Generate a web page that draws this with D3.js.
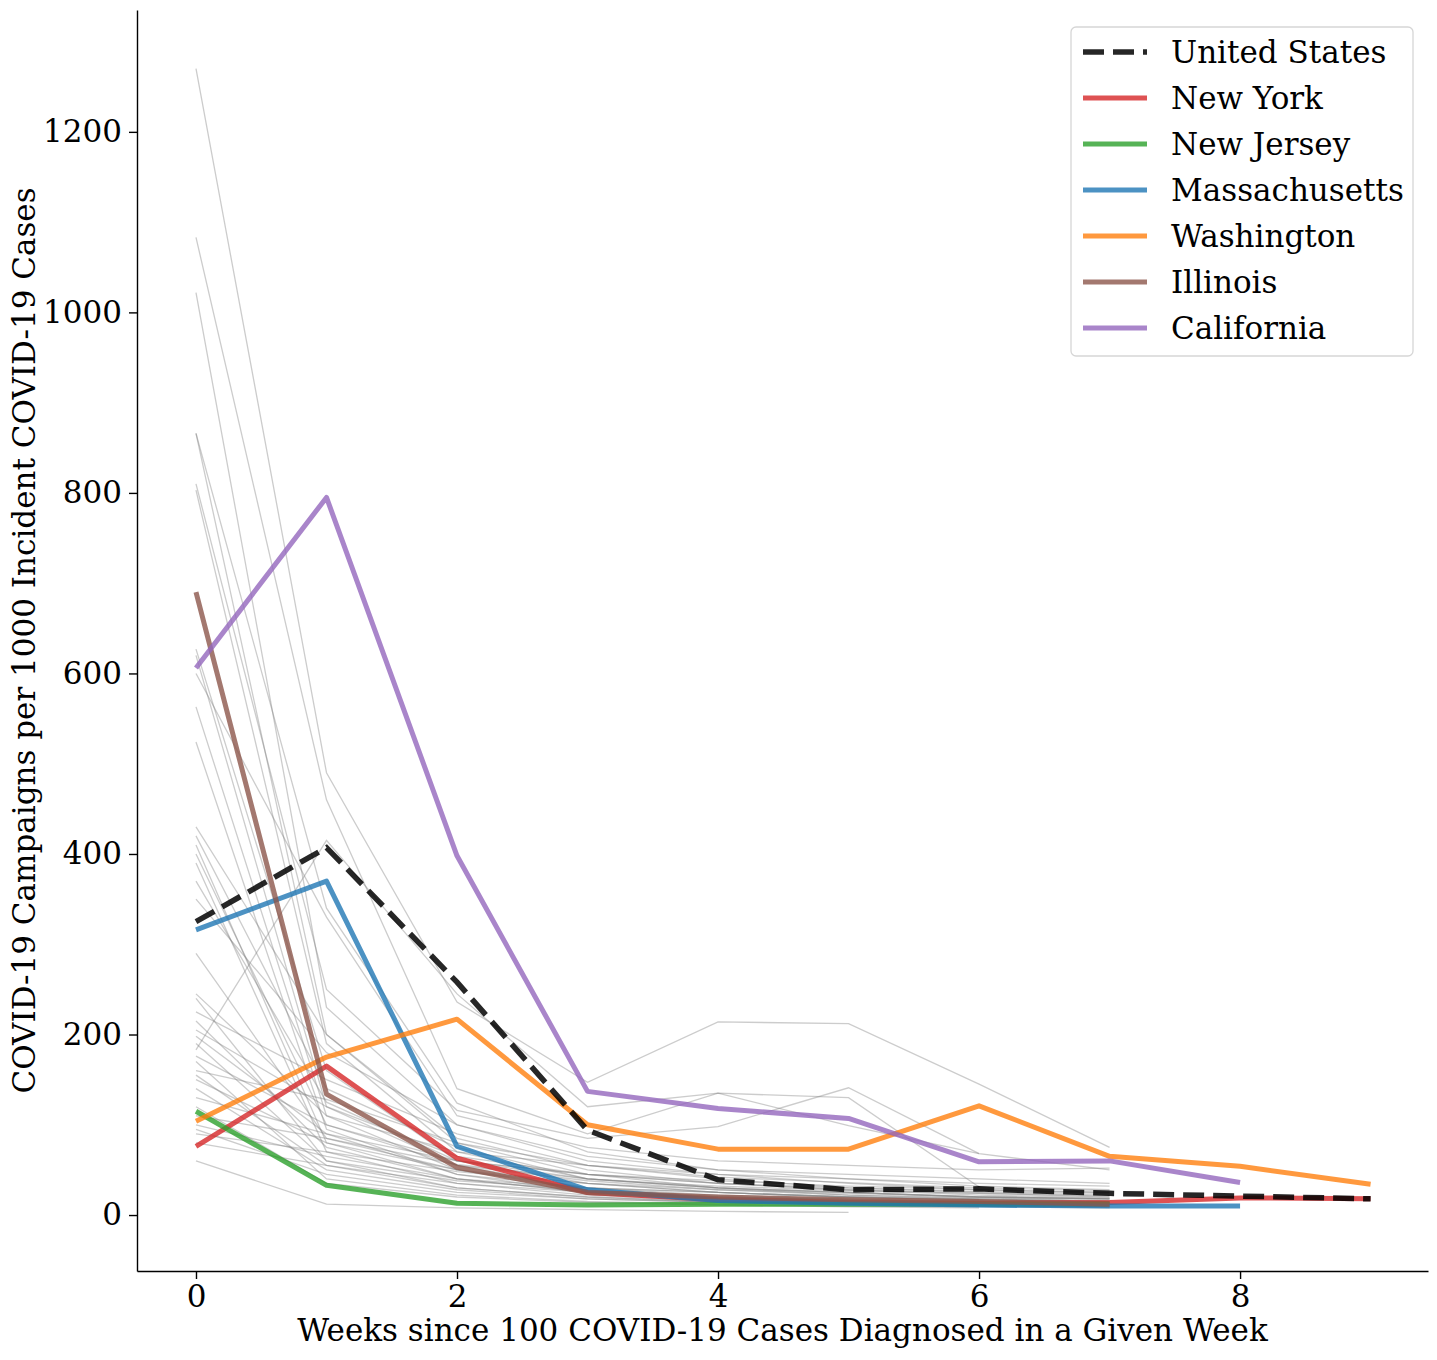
<!DOCTYPE html>
<html>
<head>
<meta charset="utf-8">
<script src="https://cdn.jsdelivr.net/npm/d3@7"></script>
<style>
  body { margin: 0; background: #fff; }
  svg { display: block; font-family: "DejaVu Serif", serif; }
</style>
</head>
<body>
<div id="chart"></div>
<script>
// weeks since 100 cases
const weeks = [0, 1, 2, 3, 4, 5, 6, 7, 8, 9];

// highlighted series (campaigns per 1000 incident cases)
const unitedStates = [325, 407, 258, 94, 39, 28, 29, 24, 21, 18];
const newYork = [76, 165, 63, 25, 17, 14, 13, 14, 19, 18];
const newJersey = [115, 33, 13, 11, 12, 12, 12, 12];
const massachusetts = [316, 370, 76, 28, 16, 13, 11, 10, 10];
const washington = [104, 175, 217, 100, 73, 73, 121, 65, 54, 34];
const illinois = [690, 134, 53, 25, 20, 17, 15, 12];
const california = [606, 795, 398, 137, 118, 107, 59, 60, 36];

// other states, drawn in grey
const otherStates = [
    [1270, 490, 236, 147, 214, 212, 145, 75],
    [1083, 460, 140, 90, 135, 130, 31],
    [1022, 230, 100, 60, 45, 35, 28, 25],
    [866, 340, 124, 70, 50, 40, 32, 28],
    [866, 200, 80, 45, 30, 25, 20, 18],
    [810, 250, 116, 85, 98, 141, 68],
    [803, 190, 70, 40, 30, 22, 18, 15],
    [627, 160, 60, 35, 25, 20, 16, 14],
    [620, 120, 55, 30, 20, 18, 15, 12],
    [563, 110, 50, 28, 20, 17, 14, 12],
    [524, 95, 45, 25, 18, 15, 13, 11],
    [430, 200, 85, 50, 35, 28, 24, 20],
    [420, 140, 75, 40, 30, 25, 20, 18],
    [410, 80, 40, 25, 20, 16, 14, 12],
    [400, 100, 55, 38, 28, 22, 19, 16],
    [390, 70, 35, 22, 16, 14, 12, 10],
    [370, 125, 60, 45, 35, 28, 22, 19],
    [290, 85, 50, 30, 25, 20, 17],
    [240, 60, 30, 20, 15, 12, 10, 9],
    [225, 150, 90, 55, 40, 30, 25, 22],
    [215, 75, 40, 25, 18, 15],
    [205, 120, 65, 45, 35, 30, 26, 24],
    [198, 90, 45, 30, 22, 18, 15, 13],
    [190, 60, 38, 28, 20, 16, 14, 12],
    [183, 415, 245, 120, 135, 99, 68, 50],
    [176, 100, 60, 40, 30, 25, 20, 18],
    [155, 55, 30, 20, 14, 12, 10],
    [150, 80, 50, 35, 25, 20, 18, 15],
    [140, 50, 28, 18, 14, 12, 10, 9],
    [100, 65, 40, 30, 25, 20, 17, 15],
    [95, 45, 25, 18, 14, 12, 10, 9],
    [90, 70, 48, 35, 28, 24, 20, 18],
    [60, 12, 8, 6, 4, 3],
    [130, 90, 60, 45, 38, 32, 28, 25],
    [245, 110, 70, 55, 45, 40, 35, 32],
    [350, 180, 100, 65, 50, 45, 40, 35],
    [600, 330, 110, 75, 60, 55, 50, 52],
    [170, 40, 22, 15, 12, 10, 9, 8],
    [120, 35, 20, 14, 11, 9, 8],
    [80, 55, 35, 25, 20, 17, 15, 13],
    [160, 128, 80, 55, 42, 36, 30, 27],
    [110, 85, 56, 40, 32, 27, 24, 21]
];

const xTicks = [0, 2, 4, 6, 8];
const yTicks = [0, 200, 400, 600, 800, 1000, 1200];

const highlighted = [
    { name: "New York", values: newYork, color: "#d62728" },
    { name: "New Jersey", values: newJersey, color: "#2ca02c" },
    { name: "Massachusetts", values: massachusetts, color: "#1f77b4" },
    { name: "Washington", values: washington, color: "#ff7f0e" },
    { name: "Illinois", values: illinois, color: "#8c564b" },
    { name: "California", values: california, color: "#9467bd" }
];

const W = 1437, H = 1360;
const plot = { left: 137, right: 1428, top: 10, bottom: 1271 };
const fontSize = "31px";

const svg = d3.select("#chart").append("svg")
    .attr("width", W)
    .attr("height", H);

const x = d3.scaleLinear().domain([-0.452, 9.44]).range([plot.left, plot.right]);
const y = d3.scaleLinear().domain([-62, 1335]).range([plot.bottom, plot.top]);

const line = d3.line()
    .x((d, i) => x(weeks[i]))
    .y(d => y(d));

// grey state lines
svg.append("g")
    .selectAll("path")
    .data(otherStates)
    .enter().append("path")
    .attr("d", line)
    .attr("fill", "none")
    .attr("stroke", "#808080")
    .attr("stroke-opacity", 0.4)
    .attr("stroke-width", 1.3);

// highlighted states
svg.append("g")
    .selectAll("path")
    .data(highlighted)
    .enter().append("path")
    .attr("d", d => line(d.values))
    .attr("fill", "none")
    .attr("stroke", d => d.color)
    .attr("stroke-opacity", 0.8)
    .attr("stroke-width", 5)
    .attr("stroke-linejoin", "round");

// national average
svg.append("path")
    .attr("d", line(unitedStates))
    .attr("fill", "none")
    .attr("stroke", "#000")
    .attr("stroke-opacity", 0.85)
    .attr("stroke-width", 5.5)
    .attr("stroke-dasharray", "21,9");

// axes
const xAxis = svg.append("g")
    .attr("transform", `translate(0,${plot.bottom})`)
    .call(d3.axisBottom(x).tickValues(xTicks).tickFormat(d3.format("d"))
        .tickSize(8).tickSizeOuter(0).tickPadding(6));
const yAxis = svg.append("g")
    .attr("transform", `translate(${plot.left},0)`)
    .call(d3.axisLeft(y).tickValues(yTicks).tickFormat(d3.format("d"))
        .tickSize(8).tickSizeOuter(0).tickPadding(7));

[xAxis, yAxis].forEach(a => {
    a.select(".domain").attr("stroke", "#000").attr("stroke-width", 1.4);
    a.selectAll(".tick line").attr("stroke", "#000").attr("stroke-width", 1.4);
    a.selectAll(".tick text")
        .style("font-family", "DejaVu Serif")
        .style("font-size", fontSize)
        .attr("fill", "#000");
});

// axis titles
svg.append("text")
    .attr("x", (plot.left + plot.right) / 2)
    .attr("y", 1341)
    .attr("text-anchor", "middle")
    .style("font-size", fontSize)
    .text("Weeks since 100 COVID-19 Cases Diagnosed in a Given Week");

svg.append("text")
    .attr("transform", `translate(35,${(plot.top + plot.bottom) / 2}) rotate(-90)`)
    .attr("text-anchor", "middle")
    .style("font-size", fontSize)
    .text("COVID-19 Campaigns per 1000 Incident COVID-19 Cases");

// legend
const legendItems = [{ name: "United States", color: "#000", dashed: true }].concat(highlighted);
const legend = svg.append("g").attr("transform", "translate(1071,27)");
legend.append("rect")
    .attr("width", 342)
    .attr("height", 329)
    .attr("rx", 5)
    .attr("fill", "#fff")
    .attr("fill-opacity", 0.8)
    .attr("stroke", "#d6d6d6")
    .attr("stroke-width", 1.3);

const rows = legend.selectAll(".row")
    .data(legendItems)
    .enter().append("g")
    .attr("transform", (d, i) => `translate(0,${25 + i * 46})`);

rows.append("line")
    .attr("x1", 12)
    .attr("x2", 76)
    .attr("stroke", d => d.color)
    .attr("stroke-opacity", d => d.dashed ? 0.85 : 0.8)
    .attr("stroke-width", d => d.dashed ? 5.5 : 5)
    .attr("stroke-dasharray", d => d.dashed ? "21,9" : null);

rows.append("text")
    .attr("x", 100)
    .attr("dy", "0.35em")
    .style("font-size", fontSize)
    .text(d => d.name);
</script>
</body>
</html>
